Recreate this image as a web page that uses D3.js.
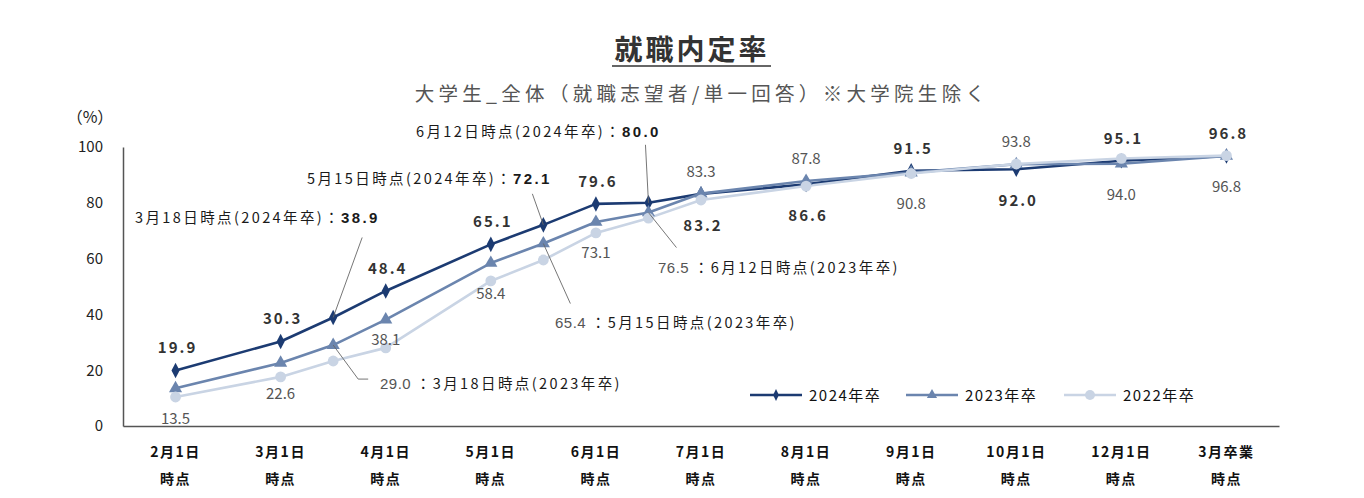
<!DOCTYPE html>
<html><head><meta charset="utf-8">
<script src="https://cdn.jsdelivr.net/npm/d3@7"></script>
<style>
body{margin:0;background:#fff;}
text{font-family:"Noto Sans CJK JP","Noto Sans",sans-serif;}
</style></head>
<body><svg id="c" width="1364" height="498"></svg>
<script>
// ---- data ----
const categories = ["2月1日\n時点","3月1日\n時点","4月1日\n時点","5月1日\n時点","6月1日\n時点","7月1日\n時点","8月1日\n時点","9月1日\n時点","10月1日\n時点","12月1日\n時点","3月卒業\n時点"];
// point positions on the category index (intermediate survey dates between categories)
const pointDates = ["2/1","3/1","3/18","4/1","5/1","5/15","6/1","6/12","7/1","8/1","9/1","10/1","12/1","3月"];
const pointIndex = [0,1,1.5,2,3,3.5,4,4.5,5,6,7,8,9,10];
const s2024 = [19.9,30.3,38.9,48.4,65.1,72.1,79.6,80.0,83.2,86.6,91.5,92.0,95.1,96.8];
const s2023 = [13.5,22.6,29.0,38.1,58.4,65.4,73.1,76.5,83.3,87.8,90.8,93.8,94.0,96.8];
const s2022 = [10.4,17.6,23.3,28.0,52.0,59.5,69.2,74.5,81.0,86.0,90.5,93.9,95.9,96.9];
const seriesNames = ["2024年卒","2023年卒","2022年卒"];
const yTicks = [0,20,40,60,80,100];

// label placement (which side of the point), null = labelled by annotation / none
const place2024 = ["up","up",null,"up","up",null,"up",null,"down","down","up","down","up","up"];
const place2023 = ["down","down",null,"down","down",null,"down",null,"up","up","down","up","down","down"];

const svg = d3.select("#c");
const x = d3.scaleLinear().domain([-0.5,10.5]).range([123,1279]);
const y = d3.scaleLinear().domain([0,100]).range([426,147]);

const colors = ["#1c3b72","#6b85ae","#c9d4e4"];
const numFont = "Liberation Sans, Arial, sans-serif";

// title
svg.append("text").attr("x",692).attr("y",60).attr("text-anchor","middle")
  .attr("font-size",28).attr("font-weight","bold").attr("fill","#333")
  .attr("letter-spacing",3).text("就職内定率");
svg.append("line").attr("x1",612).attr("x2",771).attr("y1",66).attr("y2",66).attr("stroke","#333").attr("stroke-width",1.6);
svg.append("text").attr("x",702).attr("y",101).attr("text-anchor","middle")
  .attr("font-size",19.5).attr("fill","#555").attr("letter-spacing",4.3)
  .text("大学生_全体（就職志望者/単一回答）※大学院生除く");

// y axis
const yAxis = d3.axisLeft(y).tickValues(yTicks).tickSize(0).tickPadding(20);
const gy = svg.append("g").attr("transform","translate(123,0)").call(yAxis);
gy.select(".domain").attr("stroke","#555").attr("stroke-width",1.5);
gy.selectAll("text").attr("font-size",15).attr("fill","#222").attr("font-family",numFont);
svg.append("text").attr("x",90).attr("y",123).attr("text-anchor","middle").attr("font-size",16).attr("fill","#222").text("（%）");

// x axis
const xAxis = d3.axisBottom(x).tickValues(d3.range(categories.length)).tickSize(0).tickFormat("");
const gx = svg.append("g").attr("transform","translate(0,426)").call(xAxis);
gx.select(".domain").attr("stroke","#555").attr("stroke-width",1.5);
categories.forEach((c,i)=>{
  const lines = c.split("\n");
  lines.forEach((l,j)=>{
    svg.append("text").attr("x",x(i)).attr("y",457+j*27).attr("text-anchor","middle")
      .attr("font-size",14).attr("font-weight","bold").attr("fill","#111").attr("letter-spacing",1.5).text(l);
  });
});

// lines
const seriesList = [s2024,s2023,s2022];
const line = d3.line().x((d,i)=>x(pointIndex[i])).y(d=>y(d));
const drawOrder = [0,1,2];
drawOrder.forEach(k=>{
  svg.append("path").datum(seriesList[k]).attr("d",line).attr("fill","none")
    .attr("stroke",colors[k]).attr("stroke-width",2.6).attr("stroke-linejoin","round");
});
drawOrder.forEach(k=>{
  const g = svg.append("g");
  seriesList[k].forEach((v,i)=>{
    const cx = x(pointIndex[i]), cy = y(v);
    if(k===0){
      g.append("path").attr("d",d3.symbol(d3.symbolDiamond,70)()).attr("transform",`translate(${cx},${cy}) scale(0.9,1)`).attr("fill",colors[0]);
    } else if(k===1){
      g.append("path").attr("d",d3.symbol(d3.symbolTriangle,75)()).attr("transform",`translate(${cx},${cy})`).attr("fill",colors[1]);
    } else {
      g.append("circle").attr("cx",cx).attr("cy",cy).attr("r",5.4).attr("fill",colors[2]);
    }
  });
});

// data labels
s2024.forEach((v,i)=>{
  const p = place2024[i]; if(!p) return;
  svg.append("text").attr("x",x(pointIndex[i])+2).attr("y",y(v)+(p==="up"?-17:37))
    .attr("text-anchor","middle").attr("font-size",15).attr("font-weight","bold").attr("fill","#333")
    .attr("letter-spacing",2).attr("font-family",numFont).text(v.toFixed(1));
});
s2023.forEach((v,i)=>{
  const p = place2023[i]; if(!p) return;
  svg.append("text").attr("x",x(pointIndex[i])).attr("y",y(v)+(p==="up"?-17:(i===3?25:36)))
    .attr("text-anchor","middle").attr("font-size",15).attr("fill","#555")
    .attr("font-family",numFont).text(v.toFixed(1));
});

// annotations (2024): leader from point to label
const annos = [
  [s2024,2,"3月18日時点(2024年卒)：","38.9",135,223,[29,-80]],
  [s2024,5,"5月15日時点(2024年卒)：","72.1",307,184,[-11,-31]],
  [s2024,7,"6月12日時点(2024年卒)：","80.0",416,137,[-3,-58]],
];
annos.forEach(a=>{
  const [s,i,t,val,tx,ty,d] = a;
  const px=x(pointIndex[i]), py=y(s[i]);
  svg.append("line").attr("x1",px).attr("y1",py).attr("x2",px+d[0]).attr("y2",py+d[1]).attr("stroke","#666").attr("stroke-width",0.9);
  const tt = svg.append("text").attr("x",tx).attr("y",ty).attr("font-size",14.5).attr("fill","#1a1a1a").attr("letter-spacing",2.4);
  tt.append("tspan").text(t);
  tt.append("tspan").attr("font-weight","bold").attr("font-size",15).attr("letter-spacing",2.4).attr("font-family",numFont).text(val);
});
const annos23 = [
  [s2023,2,"29.0","：3月18日時点(2023年卒)",380,389,[[25,34],[35,34]]],
  [s2023,5,"65.4","：5月15日時点(2023年卒)",555,328,[[27,60]]],
  [s2023,7,"76.5","：6月12日時点(2023年卒)",658,273,[[28,35]]],
];
annos23.forEach(a=>{
  const [s,i,val,t,tx,ty,pts] = a;
  const px=x(pointIndex[i]), py=y(s[i]);
  const path = d3.path(); path.moveTo(px,py); pts.forEach(p=>path.lineTo(px+p[0],py+p[1]));
  svg.append("path").attr("d",path.toString()).attr("fill","none").attr("stroke","#666").attr("stroke-width",0.9);
  const tt = svg.append("text").attr("x",tx).attr("y",ty).attr("font-size",14.5).attr("fill","#1a1a1a").attr("letter-spacing",2.4);
  tt.append("tspan").attr("font-size",15).attr("fill","#555").attr("letter-spacing",0.5).attr("font-family",numFont).text(val+" ");
  tt.append("tspan").text(t);
});

// legend
const legX = [750,906,1064];
seriesNames.forEach((n,k)=>{
  const lx = legX[k], ly=395;
  svg.append("line").attr("x1",lx).attr("x2",lx+52).attr("y1",ly).attr("y2",ly).attr("stroke",colors[k]).attr("stroke-width",2.6);
  if(k===0) svg.append("path").attr("d",d3.symbol(d3.symbolDiamond,40)()).attr("transform",`translate(${lx+26},${ly}) scale(0.85,1)`).attr("fill",colors[0]);
  if(k===1) svg.append("path").attr("d",d3.symbol(d3.symbolTriangle,45)()).attr("transform",`translate(${lx+26},${ly})`).attr("fill",colors[1]);
  if(k===2) svg.append("circle").attr("cx",lx+26).attr("cy",ly).attr("r",5).attr("fill",colors[2]);
  svg.append("text").attr("x",lx+59).attr("y",ly+5.5).attr("font-size",15).attr("fill","#111").attr("letter-spacing",1.5).text(n);
});
</script></body></html>
